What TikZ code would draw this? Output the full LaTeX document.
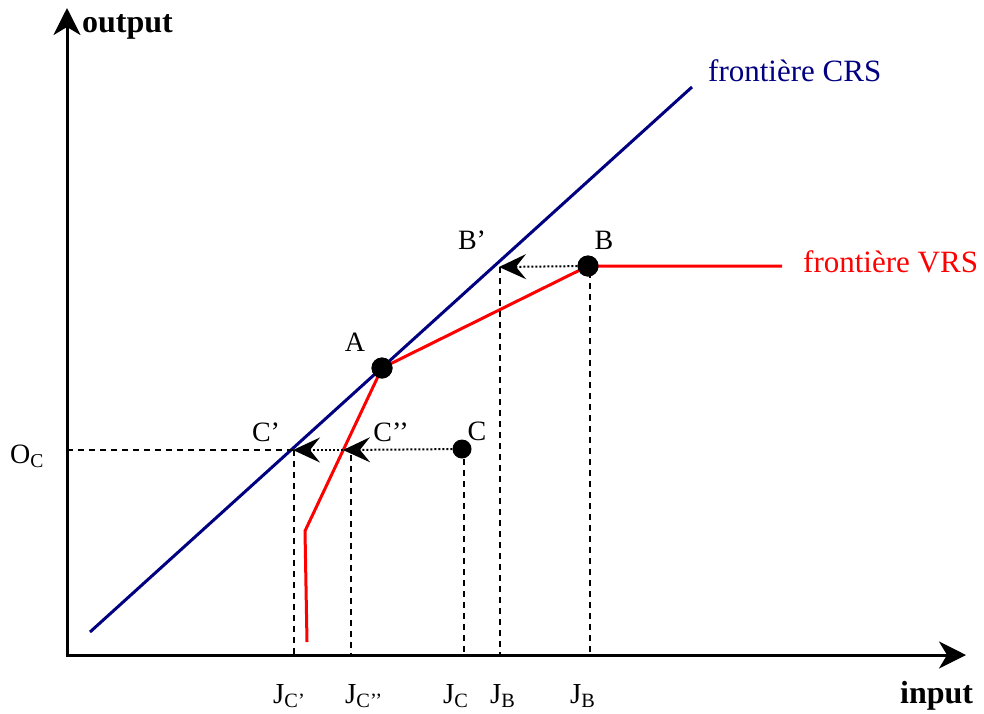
\documentclass[tikz,border=0pt]{standalone}
\usepackage{fontspec}
\setmainfont{Liberation Serif}
\usetikzlibrary{arrows.meta}
\definecolor{crsblue}{RGB}{0,0,128}
\definecolor{vrsred}{RGB}{255,0,0}
\begin{document}
\begin{tikzpicture}[x=1pt,y=-1pt,
  axisline/.style={line width=3pt,{Stealth[length=27pt,width=27pt,inset=8pt]}-{Stealth[length=27pt,width=27pt,inset=8pt]}},
  crsline/.style={crsblue,line width=3pt},
  vrsline/.style={vrsred,line width=3pt,line join=miter},
  guide/.style={black,line width=2pt,dash pattern=on 6pt off 5pt},
  proj/.style={black,line width=2pt,dash pattern=on 2pt off 2pt,-{Stealth[length=27pt,width=25pt,inset=10pt]}},
  dot/.style={circle,fill=black,inner sep=0pt,minimum size=#1},
  ptlabel/.style={font=\fontsize{28}{32}\selectfont,inner sep=0pt},
  axlabel/.style={font=\fontsize{29}{32}\selectfont,inner sep=0pt,anchor=base west},
  bigtext/.style={font=\fontsize{31}{34}\selectfont,inner sep=0pt,anchor=base west}
]
\useasboundingbox (0,0) rectangle (984,713);
% axes
\coordinate (O) at (67,655);
\coordinate (Ytip) at (67,8);
\coordinate (Xtip) at (966,655);
\draw[axisline] (Ytip) -- (O) -- (Xtip);
\node[bigtext,font=\fontsize{32}{34}\selectfont\bfseries] (outlab) at (82,32) {output};
\node[bigtext,font=\fontsize{32}{34}\selectfont\bfseries] (inlab) at (900,703) {input};
% CRS frontier
\coordinate (CRSa) at (90,632);
\coordinate (CRSb) at (692,87);
\draw[crsline] (CRSa) -- (CRSb);
\node[bigtext,text=crsblue] (crslab) at (708,81) {frontière CRS};
% VRS frontier
\coordinate (V0) at (307,642);
\coordinate (V1) at (305,531);
\coordinate (V4) at (782,266);
\node[dot=21pt] (A) at (382,368) {};
\node[dot=21pt] (B) at (588,266) {};
\node[dot=19pt] (C) at (462,449) {};
\draw[vrsline] (V0) -- (V1) -- (A.center) -- (B.center) -- (V4);
\node[dot=21pt] at (A) {};
\node[dot=21pt] at (B) {};
\node[bigtext,text=vrsred] (vrslab) at (803,272) {frontière VRS};
% projection points
\coordinate (Bp) at (499,267);
\coordinate (Cp) at (293,450);
\coordinate (Cpp) at (343,450);
\coordinate (OC) at (67,450);
% guides
\draw[guide] (OC) -- (Cp);
\coordinate (Jcp) at (294,655);
\coordinate (Jcppt) at (351,455);
\coordinate (Jcpp) at (351,655);
\coordinate (Jct) at (464,459);
\coordinate (Jc) at (464,655);
\coordinate (Jbp) at (500,655);
\coordinate (Jbt) at (590,272);
\coordinate (Jb) at (590,655);
\draw[guide] (294,450) -- (Jcp);
\draw[guide] (Jcppt) -- (Jcpp);
\draw[guide] (Jct) -- (Jc);
\draw[guide] (500,267) -- (Jbp);
\draw[guide] (Jbt) -- (Jb);
% projections
\draw[proj] (B) -- (Bp);
\draw[proj] (C) -- (Cpp);
\draw[proj] (Cpp) -- (Cp);
% point labels
\node[ptlabel] (Alab) at (355,342) {A};
\node[ptlabel] (Blab) at (604,240) {B};
\node[ptlabel] (Bplab) at (472,240) {B’};
\node[ptlabel] (Clab) at (477,431) {C};
\node[ptlabel] (Cplab) at (266,432) {C’};
\node[ptlabel] (Cpplab) at (391,432) {C’’};
\node[axlabel,font=\fontsize{28}{30}\selectfont] (OClab) at (10,463) {O\textsubscript{C}};
% axis tick labels
\node[axlabel] (l1) at (273,703) {J\textsubscript{C’}};
\node[axlabel] (l2) at (345,703) {J\textsubscript{C’’}};
\node[axlabel] (l3) at (443,703) {J\textsubscript{C}};
\node[axlabel] (l4) at (490,703) {J\textsubscript{B}};
\node[axlabel] (l5) at (570,703) {J\textsubscript{B}};
\end{tikzpicture}
\end{document}
